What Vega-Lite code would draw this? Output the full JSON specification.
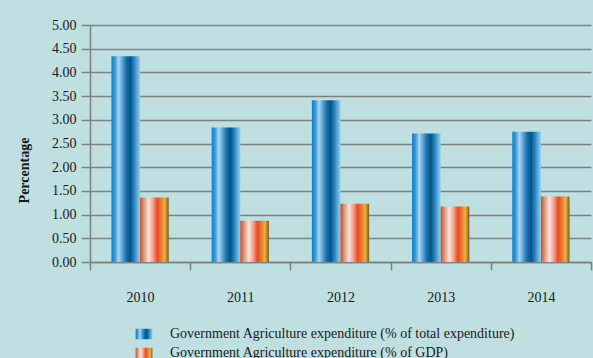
{
  "$schema": "https://vega.github.io/schema/vega-lite/v6.json",
  "width": 501,
  "height": 237,
  "autosize": {"type": "none"},
  "padding": {"left": 90, "top": 25, "right": 2, "bottom": 96},
  "background": "#c0dfe0",
  "data": {
    "values": [
      {"year": "2010", "series": "Government Agriculture expenditure (% of total expenditure)", "value": 4.34},
      {"year": "2010", "series": "Government Agriculture expenditure (% of GDP)", "value": 1.36},
      {"year": "2011", "series": "Government Agriculture expenditure (% of total expenditure)", "value": 2.84},
      {"year": "2011", "series": "Government Agriculture expenditure (% of GDP)", "value": 0.87},
      {"year": "2012", "series": "Government Agriculture expenditure (% of total expenditure)", "value": 3.41},
      {"year": "2012", "series": "Government Agriculture expenditure (% of GDP)", "value": 1.23},
      {"year": "2013", "series": "Government Agriculture expenditure (% of total expenditure)", "value": 2.71},
      {"year": "2013", "series": "Government Agriculture expenditure (% of GDP)", "value": 1.17},
      {"year": "2014", "series": "Government Agriculture expenditure (% of total expenditure)", "value": 2.75},
      {"year": "2014", "series": "Government Agriculture expenditure (% of GDP)", "value": 1.38}
    ]
  },
  "mark": {"type": "bar", "fillOpacity": 1},
  "encoding": {
    "x": {
      "field": "year",
      "type": "nominal",
      "scale": {"paddingInner": 0, "paddingOuter": 0},
      "axis": {
        "title": null,
        "labelAngle": 0,
        "tickBand": "extent",
        "tickSize": 8,
        "tickColor": "#7a8283",
        "tickWidth": 1.5,
        "domainColor": "#7a8283",
        "domainWidth": 1.5,
        "labelPadding": 20,
        "labelFont": "Liberation Serif",
        "labelFontSize": 14,
        "labelColor": "#1a1a1a",
        "grid": false
      }
    },
    "xOffset": {
      "field": "series",
      "type": "nominal",
      "sort": [
        "Government Agriculture expenditure (% of total expenditure)",
        "Government Agriculture expenditure (% of GDP)"
      ],
      "scale": {"paddingInner": 0, "paddingOuter": 0.75}
    },
    "y": {
      "field": "value",
      "type": "quantitative",
      "scale": {"domain": [0, 5], "nice": false},
      "axis": {
        "title": "Percentage",
        "titleFont": "Liberation Serif",
        "titleFontSize": 14,
        "titleFontWeight": "bold",
        "titleColor": "#1a1a1a",
        "titleX": -66,
        "titleY": 145,
        "titleBaseline": "middle",
        "values": [0, 0.5, 1, 1.5, 2, 2.5, 3, 3.5, 4, 4.5, 5],
        "format": ".2f",
        "labelFont": "Liberation Serif",
        "labelFontSize": 14,
        "labelColor": "#1a1a1a",
        "labelPadding": 5,
        "tickSize": 9,
        "tickColor": "#7a8283",
        "tickWidth": 1.5,
        "domainColor": "#7a8283",
        "domainWidth": 1.5,
        "grid": true,
        "gridColor": "#7a8283",
        "gridWidth": 1.5
      }
    },
    "fill": {
      "field": "series",
      "type": "nominal",
      "scale": {
        "domain": [
          "Government Agriculture expenditure (% of total expenditure)",
          "Government Agriculture expenditure (% of GDP)"
        ],
        "range": [
          {"expr": "{gradient: 'linear', x1: 0, x2: 1, y1: 0, y2: 0, stops: [{offset: 0, color: '#0a7fc4'}, {offset: 0.12, color: '#3a9ad6'}, {offset: 0.25, color: '#a9d6f2'}, {offset: 0.38, color: '#5aa4d6'}, {offset: 0.52, color: '#1a6ea8'}, {offset: 0.66, color: '#00558c'}, {offset: 0.82, color: '#3a8ec8'}, {offset: 1, color: '#8ed2f6'}]}"},
          {"expr": "{gradient: 'linear', x1: 0, x2: 1, y1: 0, y2: 0, stops: [{offset: 0, color: '#bf4f28'}, {offset: 0.14, color: '#e09a80'}, {offset: 0.3, color: '#f9e2de'}, {offset: 0.45, color: '#f0a392'}, {offset: 0.6, color: '#e84a25'}, {offset: 0.74, color: '#f07a30'}, {offset: 0.86, color: '#e9b243'}, {offset: 0.94, color: '#b28221'}, {offset: 1, color: '#7a5a10'}]}"}
        ]
      },
      "legend": {
        "title": null,
        "orient": "none",
        "legendX": 47,
        "legendY": 302,
        "padding": 0,
        "symbolType": "M-1.6,-1H1.6V1H-1.6Z",
        "symbolSize": 110,
        "symbolStrokeWidth": 0,
        "symbolOpacity": 1,
        "labelOffset": 19,
        "labelFont": "Liberation Serif",
        "labelFontSize": 14,
        "labelColor": "#1a1a1a",
        "labelLimit": 0,
        "rowPadding": 5
      }
    }
  },
  "config": {
    "view": {"stroke": null}
  }
}
